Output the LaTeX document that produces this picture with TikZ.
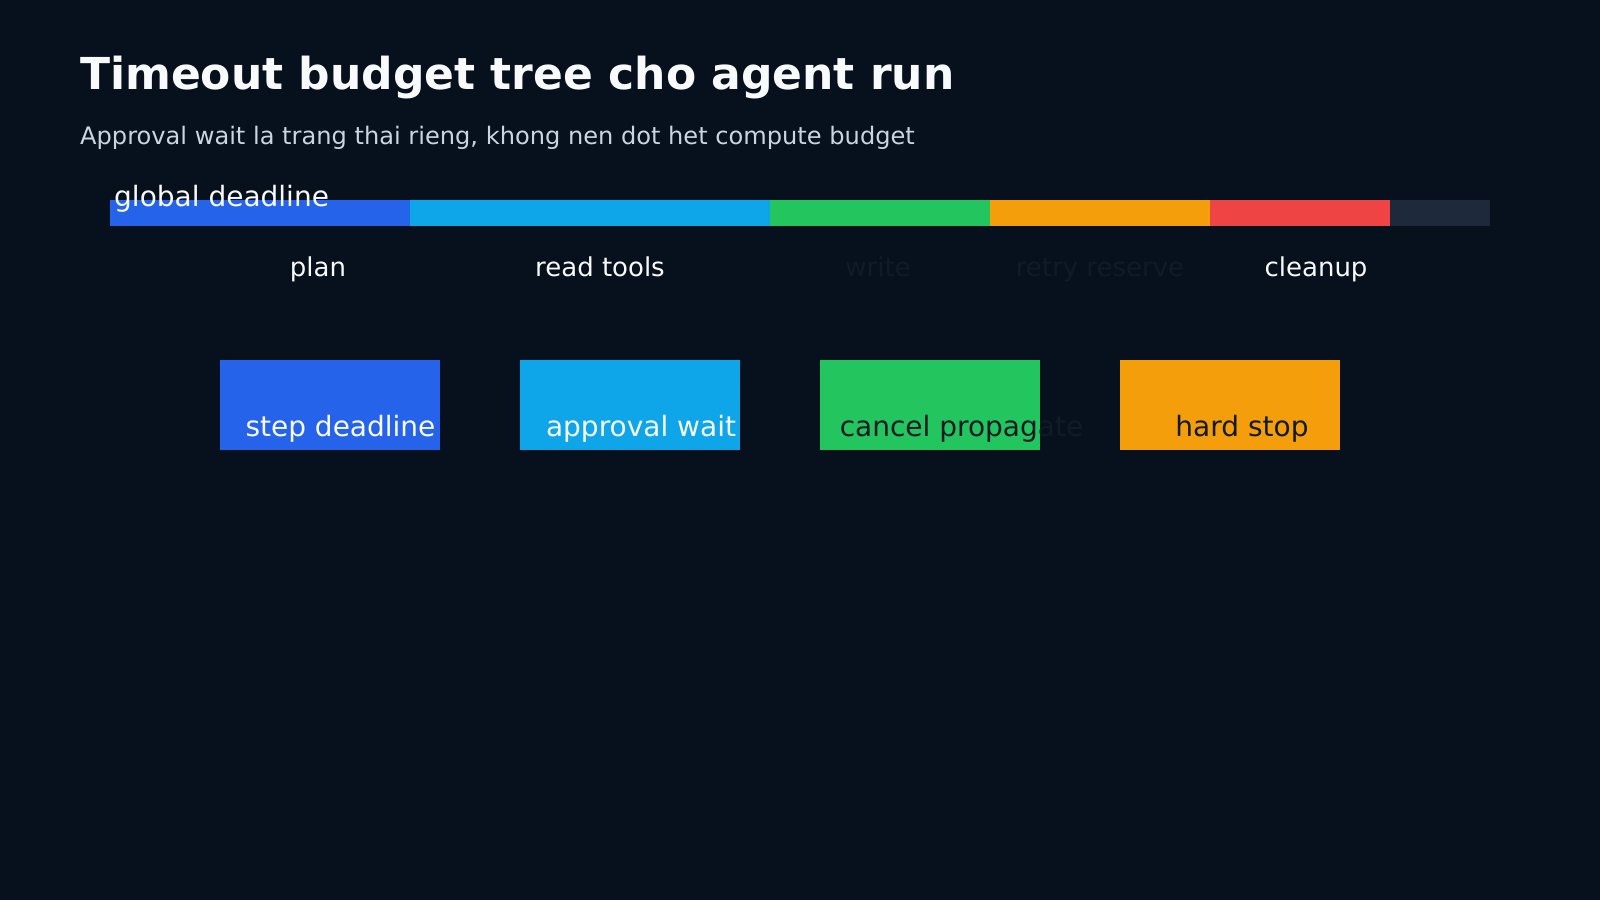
\documentclass[tikz,border=0pt]{standalone}
\usepackage{fontspec}
\setmainfont{DejaVu Sans}
\newfontfamily\boldfam{DejaVu Sans Bold}
\definecolor{bg}{HTML}{07111D}
\definecolor{cblue}{HTML}{2563EB}
\definecolor{ccyan}{HTML}{0EA5E9}
\definecolor{cgreen}{HTML}{22C55E}
\definecolor{corange}{HTML}{F59E0B}
\definecolor{cred}{HTML}{EF4444}
\definecolor{cslate}{HTML}{1E293B}
\definecolor{txtw}{HTML}{F8FAFC}
\definecolor{txtsub}{HTML}{CBD5E1}
\definecolor{txtdark}{HTML}{111A27}
\definecolor{txtbox}{HTML}{111A26}
\tikzset{
  seg/.style={fill=#1, draw=none, anchor=north west, inner sep=0, minimum height=26pt},
  box/.style={fill=#1, draw=none, anchor=north west, inner sep=0, minimum width=220pt, minimum height=90pt},
  lbl/.style={anchor=base, inner sep=0, font=\fontsize{26}{30}\selectfont},
  boxlbl/.style={anchor=base, inner sep=0, font=\fontsize{28}{32}\selectfont},
}
\begin{document}
\begin{tikzpicture}[x=1pt,y=-1pt]
\fill[bg] (0,0) rectangle (1600,900);
\useasboundingbox (0,0) rectangle (1600,900);
\node[anchor=base west, inner sep=0, text=txtw, font=\boldfam\fontsize{44}{52}\selectfont] (title) at (80,89) {Timeout budget tree cho agent run};
\node[anchor=base west, inner sep=0, text=txtsub, font=\fontsize{24.1}{28}\selectfont] (subtitle) at (80,144) {Approval wait la trang thai rieng, khong nen dot het compute budget};
% bar
\node[seg=cblue, minimum width=300pt] (s1) at (110,200) {};
\node[seg=ccyan, minimum width=360pt] (s2) at (410,200) {};
\node[seg=cgreen, minimum width=220pt] (s3) at (770,200) {};
\node[seg=corange, minimum width=220pt] (s4) at (990,200) {};
\node[seg=cred, minimum width=180pt] (s5) at (1210,200) {};
\node[seg=cslate, minimum width=100pt] (s6) at (1390,200) {};
\node[anchor=base west, inner sep=0, text=txtw, font=\fontsize{28}{32}\selectfont] (global) at (114,206.5) {global deadline};
% labels
\node[lbl, text=txtw] (lplan) at (318,276) {plan};
\node[lbl, text=txtw] (lread) at (600,276) {read tools};
\node[lbl, text=txtdark] (lwrite) at (878,276) {write};
\node[lbl, text=txtdark] (lretry) at (1100,276) {retry reserve};
\node[lbl, text=txtw] (lclean) at (1316,276) {cleanup};
% boxes
\node[box=cblue] (b1) at (220,360) {};
\node[box=ccyan] (b2) at (520,360) {};
\node[box=cgreen] (b3) at (820,360) {};
\node[box=corange] (b4) at (1120,360) {};
\node[boxlbl, text=txtw] (t1) at (340.5,436.5) {step deadline};
\node[boxlbl, text=txtw] (t2) at (641,436.5) {approval wait};
\node[boxlbl, text=txtbox] (t3) at (961.5,436.5) {cancel propagate};
\node[boxlbl, text=txtbox] (t4) at (1242,436.5) {hard stop};
\end{tikzpicture}
\end{document}
